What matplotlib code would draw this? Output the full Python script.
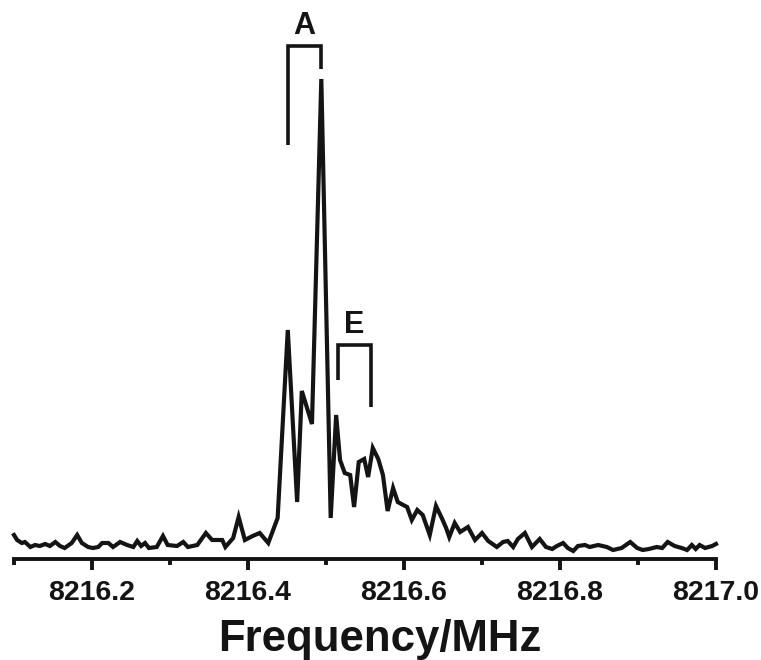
import matplotlib
matplotlib.use("Agg")
import matplotlib.pyplot as plt
from matplotlib.ticker import FixedLocator

plt.rcParams['font.family'] = ['Liberation Sans', 'DejaVu Sans']

freq = [8216.100, 8216.104, 8216.110, 8216.114, 8216.121, 8216.127, 8216.133, 8216.140,
        8216.146, 8216.153, 8216.159, 8216.165, 8216.174, 8216.181, 8216.187, 8216.195,
        8216.201, 8216.208, 8216.213, 8216.221, 8216.227, 8216.236, 8216.245, 8216.253,
        8216.258, 8216.263, 8216.268, 8216.273, 8216.283, 8216.291, 8216.297, 8216.309,
        8216.317, 8216.323, 8216.335, 8216.346, 8216.354, 8216.367, 8216.371, 8216.381,
        8216.388, 8216.396, 8216.406, 8216.415, 8216.426, 8216.438, 8216.451, 8216.463,
        8216.469, 8216.482, 8216.494, 8216.506, 8216.513, 8216.518, 8216.524, 8216.531,
        8216.536, 8216.542, 8216.549, 8216.554, 8216.560, 8216.567, 8216.573, 8216.579,
        8216.586, 8216.592, 8216.599, 8216.604, 8216.610, 8216.617, 8216.624, 8216.633,
        8216.641, 8216.649, 8216.654, 8216.658, 8216.665, 8216.672, 8216.682, 8216.691,
        8216.700, 8216.708, 8216.719, 8216.727, 8216.733, 8216.740, 8216.746, 8216.755,
        8216.764, 8216.774, 8216.782, 8216.790, 8216.796, 8216.804, 8216.810, 8216.817,
        8216.823, 8216.832, 8216.838, 8216.849, 8216.860, 8216.868, 8216.879, 8216.890,
        8216.899, 8216.906, 8216.914, 8216.924, 8216.931, 8216.938, 8216.947, 8216.956,
        8216.963, 8216.969, 8216.974, 8216.979, 8216.986, 8216.995, 8217.000]

intensity = [24, 19, 16, 17, 12, 14, 13, 15,
             13, 17, 13, 11, 16, 24, 16, 12,
             11, 12, 16, 16, 12, 17, 14, 12,
             18, 13, 16, 11, 12, 23, 14, 13,
             17, 12, 14, 26, 19, 19, 12, 21,
             42, 19, 23, 26, 16, 41, 229, 57,
             168, 135, 480, 41, 144, 99, 86, 84,
             52, 97, 100, 82, 111, 100, 84, 48,
             71, 57, 54, 52, 39, 49, 44, 24,
             53, 40, 31, 22, 36, 27, 32, 19,
             26, 18, 12, 17, 18, 12, 20, 26,
             12, 20, 12, 10, 13, 16, 11, 8,
             13, 14, 12, 14, 12, 9, 11, 17,
             11, 9, 10, 12, 11, 17, 13, 11,
             9, 14, 10, 14, 11, 13, 15]

major_ticks = [8216.2, 8216.4, 8216.6, 8216.8, 8217.0]
minor_ticks = [8216.1, 8216.3, 8216.5, 8216.7, 8216.9]
tick_labels = ["8216.2", "8216.4", "8216.6", "8216.8", "8217.0"]

# assignment brackets
bracket_labels = ["A", "E"]
bracket_left = [8216.451, 8216.515]
bracket_right = [8216.494, 8216.558]
bracket_top = [513, 214]
bracket_left_bottom = [414, 179]
bracket_right_bottom = [490, 152]

col = "#141414"
fig = plt.figure(figsize=(7.61, 6.60), dpi=100)
ax = fig.add_axes([14/761, 1 - 559/660, 702/761, 559/660])
ax.plot(freq, intensity, color=col, lw=3.0, solid_joinstyle='miter', clip_on=False)

for lab, xl, xr, yt, bl, br in zip(bracket_labels, bracket_left, bracket_right,
                                   bracket_top, bracket_left_bottom, bracket_right_bottom):
    ax.plot([xl, xl, xr, xr], [bl, yt, yt, br], color=col, lw=2.6,
            solid_joinstyle='miter', solid_capstyle='butt')
    ax.text((xl + xr) / 2, yt + 5, lab, ha='center', va='bottom',
            fontsize=22, fontweight='bold', color=col)

ax.set_xlim(8216.1, 8217.0)
ax.set_ylim(0, 559)
for s in ['left', 'right', 'top']:
    ax.spines[s].set_visible(False)
ax.spines['bottom'].set_linewidth(2.8)
ax.spines['bottom'].set_color(col)
ax.set_yticks([])
ax.xaxis.set_major_locator(FixedLocator(major_ticks))
ax.xaxis.set_minor_locator(FixedLocator(minor_ticks))
ax.set_xticklabels(tick_labels)
ax.tick_params(axis='x', which='major', length=8, width=2.8, color=col,
               labelsize=20.5, pad=7, labelcolor=col)
ax.tick_params(axis='x', which='minor', length=4.5, width=2.8, color=col)
for t in ax.get_xticklabels():
    t.set_fontweight('bold')

fig.text(380/761, 9/660, "Frequency/MHz", ha='center', va='baseline',
         fontsize=31.5, fontweight='bold', color=col)

fig.savefig("out.png", dpi=100)
